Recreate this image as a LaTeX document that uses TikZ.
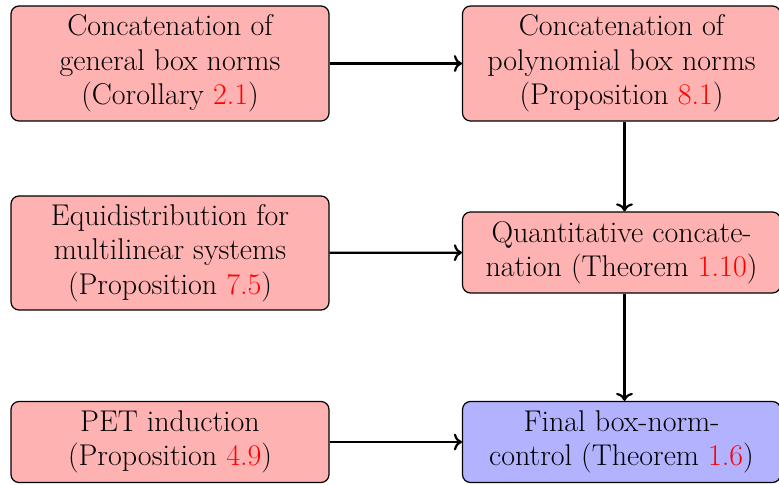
\documentclass[tikz,border=0pt]{standalone}
\usetikzlibrary{arrows.meta}
\begin{document}
\begin{tikzpicture}[x=0.5pt,y=-0.5pt,
  box/.style={draw=black, line width=0.6pt, rounded corners=4pt, align=center, inner sep=0pt,
    font=\fontsize{15}{17.2}\selectfont, minimum width=159pt},
  redbox/.style={box, fill=red!30},
  bluebox/.style={box, fill=blue!30},
  conn/.style={line width=1.1pt, ->}]
\useasboundingbox (0,0) rectangle (779,485);
\node[redbox, minimum height=57.5pt] (A) at (170,63.5) {Concatenation of\\general box norms\\(Corollary \textcolor{red}{2.1})};
\node[redbox, minimum height=57.5pt] (B) at (621.5,63.5) {Concatenation of\\polynomial box norms\\(Proposition \textcolor{red}{8.1})};
\node[redbox, minimum height=57pt] (C) at (170,253) {Equidistribution for\\multilinear systems\\(Proposition \textcolor{red}{7.5})};
\node[redbox, minimum height=40.5pt] (D) at (621.5,252.5) {Quantitative concate-\\nation (Theorem \textcolor{red}{1.10})};
\node[redbox, minimum height=40.5pt] (E) at (170,442) {PET induction\\(Proposition \textcolor{red}{4.9})};
\node[bluebox, minimum height=40.5pt] (F) at (621.5,442) {Final box-norm-\\control (Theorem \textcolor{red}{1.6})};
\draw[conn] (A) -- (B);
\draw[conn] (C) -- (D);
\draw[conn] (E) -- (F);
\draw[conn] (B.south) ++(3,0) coordinate (b1) -- (b1 |- D.north);
\draw[conn] (D.south) ++(3,0) coordinate (d1) -- (d1 |- F.north);
\end{tikzpicture}
\end{document}
